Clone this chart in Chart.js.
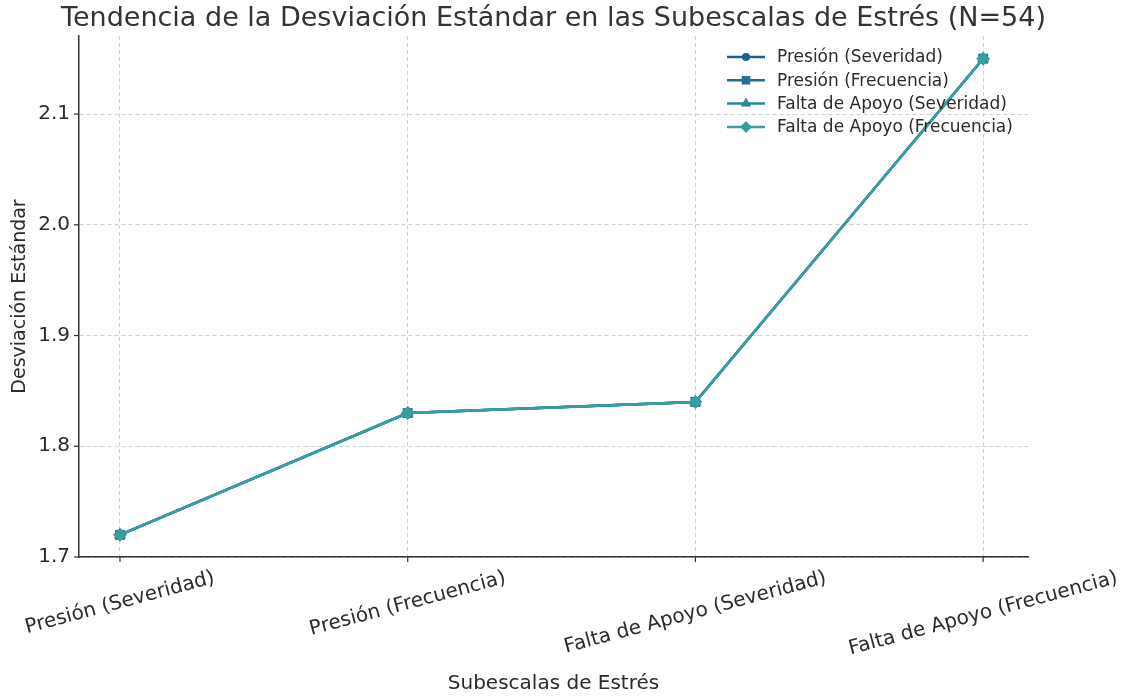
<!DOCTYPE html>
<html>
<head>
<meta charset="utf-8">
<script src="https://cdn.jsdelivr.net/npm/chart.js@4.4.1/dist/chart.umd.min.js"></script>
<style>
  html, body { margin: 0; padding: 0; background: #fff; }
  #wrap { width: 1127px; height: 696px; }
</style>
</head>
<body>
<div id="wrap"><canvas id="stdChart" width="1127" height="696"></canvas></div>
<script>
const categories = ['Presión (Severidad)', 'Presión (Frecuencia)', 'Falta de Apoyo (Severidad)', 'Falta de Apoyo (Frecuencia)'];
const seriesNames = ['Presión (Severidad)', 'Presión (Frecuencia)', 'Falta de Apoyo (Severidad)', 'Falta de Apoyo (Frecuencia)'];
const stdValues = [1.72, 1.83, 1.84, 2.15];
const yTicks = [1.7, 1.8, 1.9, 2.0, 2.1];
const seriesColors = ['#1f5f8b', '#21709a', '#2a879f', '#3a9ea0'];
const markers = ['circle', 'rect', 'triangle', 'rectRot'];
const markerRadius = [5, 7, 7, 7];

const FONT = "'DejaVu Sans', sans-serif";
const TEXT = '#2b2b2b';

// later series drawn on top, like the reference
const datasets = seriesNames.map((name, i) => ({
  label: name,
  data: stdValues.map((v, j) => ({ x: j, y: v })),
  borderColor: seriesColors[i],
  backgroundColor: seriesColors[i],
  pointStyle: markers[i],
  pointRadius: markerRadius[i],
  pointBorderWidth: 0,
  borderWidth: 2.5,
  order: seriesNames.length - i
}));

const textPlugin = {
  id: 'textPlugin',
  afterDraw(chart) {
    const ctx = chart.ctx;
    const area = chart.chartArea;
    const xs = chart.scales.x;
    const ys = chart.scales.y;
    ctx.save();

    // tick marks
    ctx.strokeStyle = '#333';
    ctx.lineWidth = 1.2;
    categories.forEach((c, i) => {
      const px = xs.getPixelForValue(i);
      ctx.beginPath(); ctx.moveTo(px, area.bottom); ctx.lineTo(px, area.bottom + 5); ctx.stroke();
    });
    yTicks.forEach(v => {
      const py = ys.getPixelForValue(v);
      ctx.beginPath(); ctx.moveTo(area.left - 5, py); ctx.lineTo(area.left, py); ctx.stroke();
    });

    // x tick labels, rotated 15deg, centered on tick
    ctx.fillStyle = TEXT;
    ctx.font = '20px ' + FONT;
    const rot = 15 * Math.PI / 180;
    categories.forEach((c, i) => {
      const px = xs.getPixelForValue(i);
      const w = ctx.measureText(c).width;
      const h = 20;
      const H = w * Math.sin(rot) + h * Math.cos(rot);
      const cy = area.bottom + 11 + H / 2;
      ctx.save();
      ctx.translate(px, cy);
      ctx.rotate(-rot);
      ctx.textAlign = 'center';
      ctx.textBaseline = 'middle';
      ctx.fillText(c, 0, 0);
      ctx.restore();
    });

    // axis titles
    ctx.font = '20px ' + FONT;
    ctx.textAlign = 'center';
    ctx.textBaseline = 'middle';
    ctx.fillText('Subescalas de Estrés', (area.left + area.right) / 2, 684);
    ctx.font = '19px ' + FONT;
    ctx.save();
    ctx.translate(20, (area.top + area.bottom) / 2);
    ctx.rotate(-Math.PI / 2);
    ctx.fillText('Desviación Estándar', 0, 0);
    ctx.restore();

    // title
    ctx.font = '27px ' + FONT;
    ctx.fillStyle = '#333';
    ctx.fillText('Tendencia de la Desviación Estándar en las Subescalas de Estrés (N=54)', (area.left + area.right) / 2, 19);

    // legend
    ctx.font = '17px ' + FONT;
    ctx.textAlign = 'left';
    seriesNames.forEach((name, i) => {
      const ly = 57 + i * 23.3;
      ctx.strokeStyle = seriesColors[i];
      ctx.fillStyle = seriesColors[i];
      ctx.lineWidth = 2.5;
      ctx.beginPath(); ctx.moveTo(727, ly); ctx.lineTo(765, ly); ctx.stroke();
      Chart.helpers.drawPoint(ctx, { pointStyle: markers[i], radius: markerRadius[i] - 1, borderWidth: 0 }, 746, ly);
      ctx.fillStyle = TEXT;
      ctx.fillText(name, 777, ly + 1);
    });

    ctx.restore();
  }
};

new Chart(document.getElementById('stdChart'), {
  type: 'line',
  data: { datasets: datasets },
  options: {
    responsive: false,
    animation: false,
    layout: { padding: { top: 36, right: 99, left: 0, bottom: 0 } },
    plugins: { legend: { display: false }, title: { display: false }, tooltip: { enabled: false } },
    scales: {
      x: {
        type: 'linear',
        min: -0.1424,
        max: 3.156,
        afterBuildTicks: s => { s.ticks = categories.map((c, i) => ({ value: i })); },
        afterFit: s => { s.height = 139; },
        ticks: { display: false },
        grid: { color: '#d0d0d0', lineWidth: 1, drawTicks: false },
        border: { display: true, color: '#333', width: 1.5, dash: [4, 3] }
      },
      y: {
        min: 1.7,
        max: 2.1705,
        afterBuildTicks: s => { s.ticks = yTicks.map(v => ({ value: v })); },
        afterFit: s => { s.width = 79; },
        ticks: {
          padding: 9,
          color: TEXT,
          font: { family: FONT, size: 20 },
          callback: v => v.toFixed(1)
        },
        grid: { color: '#d0d0d0', lineWidth: 1, drawTicks: false },
        border: { display: true, color: '#333', width: 1.5, dash: [4, 3] }
      }
    }
  },
  plugins: [textPlugin]
});
</script>
</body>
</html>
